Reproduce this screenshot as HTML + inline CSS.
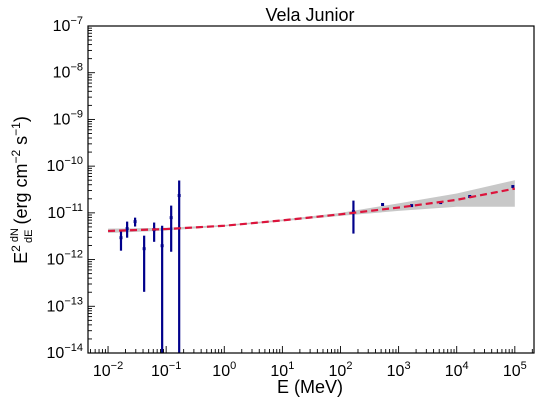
<!DOCTYPE html>
<html><head><meta charset="utf-8"><style>
html,body{margin:0;padding:0;background:#fff;width:540px;height:404px;overflow:hidden;}
svg{display:block;font-family:"Liberation Sans","DejaVu Sans",sans-serif;}
</style></head><body>
<svg id="chart" width="540" height="404" viewBox="0 0 540 404" xmlns="http://www.w3.org/2000/svg">
<text x="310" y="21" font-size="18" text-anchor="middle">Vela Junior</text>
<g id="plot"></g>
<text x="310" y="393" font-size="18" text-anchor="middle">E (MeV)</text>
<g transform="translate(27,190) rotate(-90)">
<text x="0" y="0" font-size="18" text-anchor="middle">E<tspan font-size="12" dy="-7">2</tspan><tspan dy="7" font-size="11"> </tspan><tspan font-size="11" dy="-9">dN</tspan><tspan font-size="11" dx="-15" dy="14">dE</tspan><tspan dy="-5"> (erg cm</tspan><tspan font-size="12" dy="-7">−2</tspan><tspan dy="7"> s</tspan><tspan font-size="12" dy="-7">−1</tspan><tspan dy="7">)</tspan></text>
</g>
</svg>
<script>
const pointE=[0.0167,0.0213,0.0292,0.0418,0.0621,0.0853,0.122,0.1675,167,530,1675,5300,16750,92500];
const pointF=[2.94e-12,4.6e-12,6.5e-12,1.71e-12,4.37e-12,1.98e-12,7.9e-12,2.35e-11,1.06e-11,1.51e-11,1.43e-11,1.66e-11,2.24e-11,3.66e-11];
const errHi=[4.0e-12,6.5e-12,7.9e-12,3.25e-12,6.2e-12,5.3e-12,1.43e-11,4.93e-11,1.83e-11,1.51e-11,1.43e-11,1.66e-11,2.24e-11,3.66e-11];
const errLo=[1.55e-12,2.94e-12,5.1e-12,2.04e-13,2.4e-12,1e-16,1.47e-12,1e-16,3.6e-12,1.51e-11,1.43e-11,1.66e-11,2.24e-11,3.66e-11];
const modelE=[0.01,0.1,1,10,100,1000,1e4,1e5];
const modelF=[4.1e-12,4.5e-12,5.3e-12,6.9e-12,9.3e-12,1.3e-11,1.9e-11,3.3e-11];
const bandHi=[4.6e-12,4.8e-12,5.5e-12,7.2e-12,1.0e-11,1.6e-11,2.6e-11,5.0e-11];
const bandLo=[3.7e-12,4.2e-12,5.1e-12,6.6e-12,8.6e-12,1.1e-11,1.35e-11,1.35e-11];
const xTicks=[-2,-1,0,1,2,3,4,5];
const yTicks=[-14,-13,-12,-11,-10,-9,-8,-7];

const L=88,R=534,T=26,B=353;
const xmin=-2.345,xmax=5.33,ymin=-14,ymax=-7;
const X=v=>L+(Math.log10(v)-xmin)/(xmax-xmin)*(R-L);
const Y=v=>B-(Math.log10(v)-ymin)/(ymax-ymin)*(B-T);
const NS="http://www.w3.org/2000/svg";
const g=document.getElementById('plot');
function mk(t,a,p){const e=document.createElementNS(NS,t);for(const k in a)e.setAttribute(k,a[k]);(p||g).appendChild(e);return e;}

const clip=mk('clipPath',{id:'cp'});mk('rect',{x:L,y:T,width:R-L,height:B-T},clip);
const inner=mk('g',{'clip-path':'url(#cp)'});

let d='';
modelE.forEach((e,i)=>{d+=(i?'L':'M')+X(e)+','+Y(bandHi[i]);});
for(let i=modelE.length-1;i>=0;i--)d+='L'+X(modelE[i])+','+Y(bandLo[i]);
const band=mk('path',{d:d+'Z',fill:'#c8c8c8'},inner);



pointE.forEach((e,i)=>{
  const x=X(e);
  const l=mk('line',{x1:x,x2:x,y1:Y(errHi[i]),y2:Y(errLo[i]),stroke:'#00008b','stroke-width':2.2},inner);
  
  
  const c=mk('rect',{x:x-1.5,y:Y(pointF[i])-1.5,width:3,height:3,fill:'#00008b'},inner);
  
  
});

let md='';
modelE.forEach((e,i)=>{md+=(i?'L':'M')+X(e)+','+Y(modelF[i]);});
const ml=mk('path',{d:md,fill:'none',stroke:'#dc143c','stroke-width':2.2,'stroke-dasharray':'7,4'},inner);



const fr=mk('rect',{x:L,y:T,width:R-L,height:B-T,fill:'none',stroke:'#000','stroke-width':1.2});



for(let p=-3;p<=5;p++){for(let m=1;m<10;m++){const lv=p+Math.log10(m);if(lv<xmin||lv>xmax)continue;const x=L+(lv-xmin)/(xmax-xmin)*(R-L);mk('line',{x1:x,x2:x,y1:B,y2:B-(m==1?7:4),stroke:'#000','stroke-width':0.9});}}
xTicks.forEach(p=>{const x=L+(p-xmin)/(xmax-xmin)*(R-L);
  const t=mk('text',{x:x,y:B+23,'font-size':16,'text-anchor':'middle'});
  
  
  t.innerHTML='10<tspan font-size="11" dy="-7">'+(p<0?'−'+(-p):p)+'</tspan>';});
for(let p=-14;p<-7;p++){for(let m=1;m<10;m++){const lv=p+Math.log10(m);const y=B-(lv-ymin)/(ymax-ymin)*(B-T);mk('line',{x1:L,x2:L+(m==1?7:4),y1:y,y2:y,stroke:'#000','stroke-width':0.9});}}
yTicks.forEach(p=>{const y=B-(p-ymin)/(ymax-ymin)*(B-T);
  const t=mk('text',{x:L-5,y:y+5,'font-size':16,'text-anchor':'end'});
  
  
  t.innerHTML='10<tspan font-size="11" dy="-7">−'+(-p)+'</tspan>';});
</script>
</body></html>
